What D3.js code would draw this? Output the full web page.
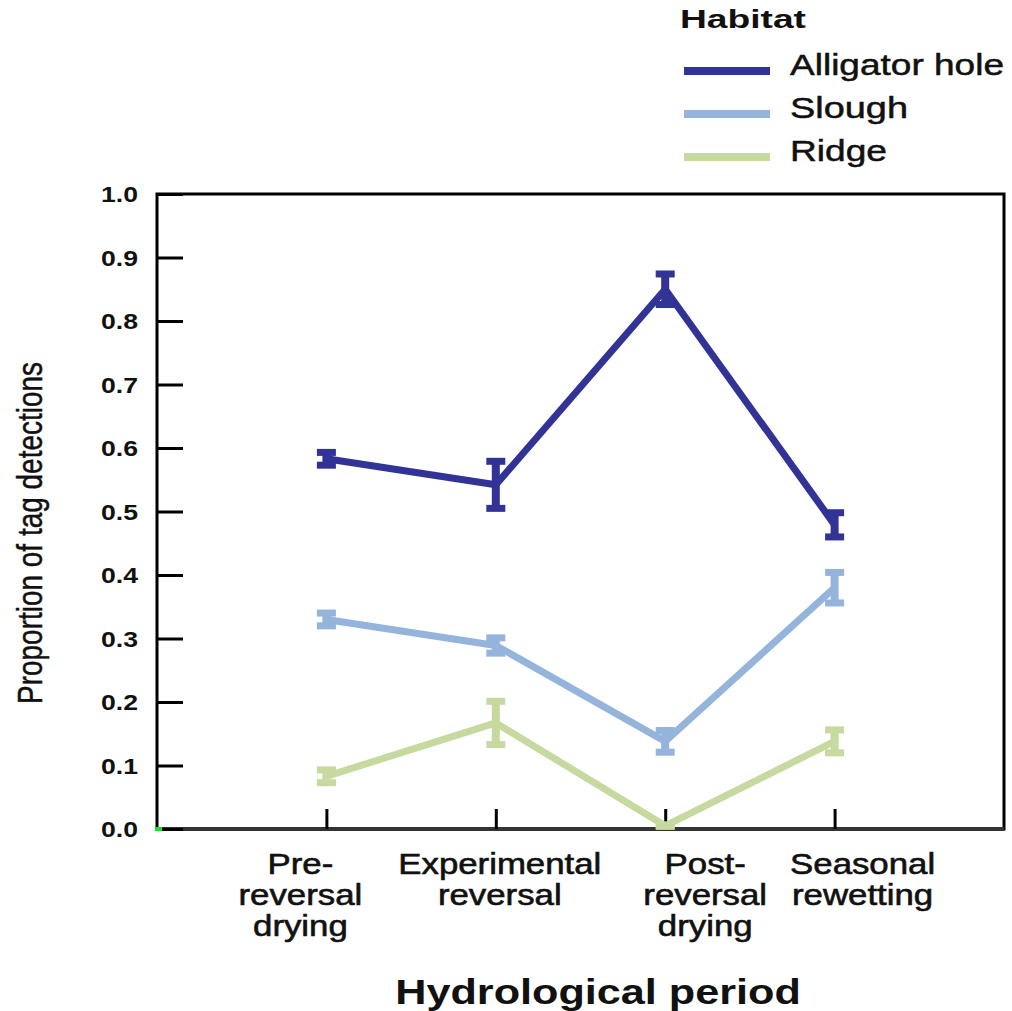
<!DOCTYPE html>
<html><head><meta charset="utf-8">
<script src="https://cdn.jsdelivr.net/npm/d3@7"></script>
<style>body{margin:0;background:#fff}svg{display:block}</style>
</head><body>
<script>
// ---- data ----
const periods = [["Pre-","reversal","drying"],["Experimental","reversal"],["Post-","reversal","drying"],["Seasonal","rewetting"]];
const habitats = ["Alligator hole","Slough","Ridge"];
const alligatorMean = [0.583, 0.542, 0.850, 0.479];
const alligatorErr  = [0.014, 0.041, 0.028, 0.023];
const sloughMean    = [0.330, 0.289, 0.138, 0.380];
const sloughErr     = [0.014, 0.016, 0.021, 0.028];
const ridgeMean     = [0.083, 0.167, 0.005, 0.138];
const ridgeErr      = [0.014, 0.038, 0.003, 0.022];
const yTicks = [0,0.1,0.2,0.3,0.4,0.5,0.6,0.7,0.8,0.9,1.0];
const legendTitle = "Habitat";
const xTitle = "Hydrological period";
const yTitle = "Proportion of tag detections";

// ---- layout ----
const W = 1012, H = 1011;
const colors = ["#323396", "#95b4db", "#c6d99e"];
const labelOffsets = [-26, 4, 40, 28];
const font = "'Liberation Sans', Arial, sans-serif";
const SX = 1.2;

const svg = d3.select("body").append("svg").attr("width", W).attr("height", H)
  .style("font-family", font);

const x = d3.scaleLinear().domain([0, 5]).range([157, 1004]);
const y = d3.scaleLinear().domain([0, 1]).range([829, 194]);

// frame
svg.append("rect").attr("x", x(0)).attr("y", y(1))
  .attr("width", x(5) - x(0)).attr("height", y(0) - y(1))
  .attr("fill", "none").attr("stroke", "#000").attr("stroke-width", 3);
svg.append("line").attr("x1", x(0)).attr("x2", x(5)).attr("y1", y(0)).attr("y2", y(0))
  .attr("stroke", "#333").attr("stroke-width", 4);

// y axis
const yAxis = svg.append("g").attr("transform", `translate(${x(0)},0)`)
  .call(d3.axisLeft(y).tickValues(yTicks).tickFormat(d3.format(".1f")).tickSizeInner(-26).tickSizeOuter(0).tickPadding(19));
yAxis.select(".domain").remove();
yAxis.selectAll(".tick line").attr("stroke", "#000").attr("stroke-width", 3);
yAxis.selectAll(".tick text").attr("font-size", 22).attr("font-family", font)
  .attr("fill", "#111").attr("font-weight", "bold").attr("dy", "0.35em")
  .attr("text-anchor", "end")
  .attr("textLength", 37).attr("lengthAdjust", "spacingAndGlyphs");

// x axis
const xAxis = svg.append("g").attr("transform", `translate(0,${y(0)})`)
  .call(d3.axisBottom(x).tickValues([1,2,3,4]).tickFormat("").tickSizeInner(-20).tickSizeOuter(0));
xAxis.select(".domain").remove();
xAxis.selectAll(".tick line").attr("stroke", "#000").attr("stroke-width", 3);

// x labels
periods.forEach((lines, i) => {
  const g = svg.append("g").attr("transform", `translate(${x(i + 1) + labelOffsets[i]},0) scale(${SX},1)`);
  lines.forEach((t, j) => {
    g.append("text").attr("x", 0).attr("y", 874 + j * 31)
      .attr("text-anchor", "middle").attr("font-size", 29).attr("fill", "#111")
      .attr("stroke", "#111").attr("stroke-width", 0.6)
      .text(t);
  });
});

// titles
svg.append("g").attr("transform", `translate(598,1004) scale(${SX},1)`)
  .append("text").attr("text-anchor", "middle").attr("font-size", 36)
  .attr("font-weight", "bold").attr("fill", "#111").text(xTitle);
svg.append("g").attr("transform", `translate(42,533) scale(1.18,1) rotate(-90)`)
  .append("text").attr("text-anchor", "middle").attr("font-size", 29)
  .attr("fill", "#111").attr("stroke", "#111").attr("stroke-width", 0.4)
  .attr("textLength", 342).attr("lengthAdjust", "spacingAndGlyphs")
  .text(yTitle);

// green corner mark
svg.append("rect").attr("x", x(0) - 2).attr("y", y(0) - 2).attr("width", 7).attr("height", 4).attr("fill", "#22dd22");

// series
const series = [
  {name: habitats[2], mean: ridgeMean, err: ridgeErr, color: colors[2]},
  {name: habitats[1], mean: sloughMean, err: sloughErr, color: colors[1]},
  {name: habitats[0], mean: alligatorMean, err: alligatorErr, color: colors[0]}
];
const line = d3.line().x((d, i) => x(i + 1)).y(d => y(d));
series.forEach(s => {
  svg.append("path").datum(s.mean).attr("d", line)
    .attr("fill", "none").attr("stroke", s.color).attr("stroke-width", 7)
    .attr("stroke-linejoin", "round");
  const eg = svg.append("g").attr("fill", s.color);
  s.mean.forEach((m, i) => {
    const cx = x(i + 1), top = y(m + s.err[i]), bot = y(m - s.err[i]);
    eg.append("rect").attr("x", cx - 4).attr("y", top).attr("width", 8).attr("height", Math.max(bot - top, 0));
    eg.append("rect").attr("x", cx - 9.5).attr("y", top - 1).attr("width", 19).attr("height", 7);
    eg.append("rect").attr("x", cx - 9.5).attr("y", bot - 6).attr("width", 19).attr("height", 7);
  });
});

// legend
const lg = svg.append("g");
lg.append("text").attr("x", 680).attr("y", 28).attr("font-size", 25).attr("font-weight", "bold")
  .attr("fill", "#111").attr("textLength", 126).attr("lengthAdjust", "spacingAndGlyphs").text(legendTitle);
const legendRows = [0, 1, 2];
const legendWidths = [214, 118, 97];
legendRows.forEach(i => {
  const base = 75 + i * 43;
  lg.append("line").attr("x1", 684).attr("x2", 770).attr("y1", base - 4).attr("y2", base - 4)
    .attr("stroke", colors[i]).attr("stroke-width", 8);
  lg.append("text").attr("x", 790).attr("y", base).attr("font-size", 30).attr("fill", "#111")
    .attr("stroke", "#111").attr("stroke-width", 0.5)
    .attr("textLength", legendWidths[i]).attr("lengthAdjust", "spacingAndGlyphs").text(habitats[i]);
});
</script>
</body></html>
